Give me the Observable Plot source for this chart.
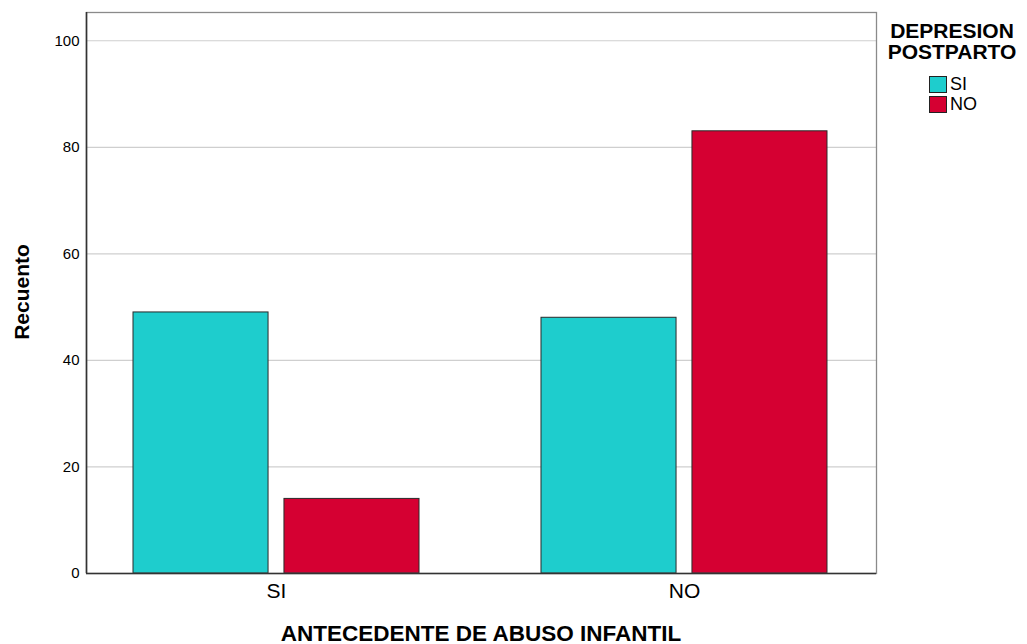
<!DOCTYPE html>
<html>
<head>
<meta charset="utf-8">
<script src="https://cdn.jsdelivr.net/npm/d3@7"></script>
<script src="https://cdn.jsdelivr.net/npm/@observablehq/plot@0.6"></script>
<style>
  html, body { margin: 0; padding: 0; background: #fff; }
  body { font-family: "Liberation Sans", Arial, sans-serif; }
  #wrap { position: relative; width: 1027px; height: 644px; }
  #legend { position: absolute; left: 876px; top: 20px; width: 152px; color: #000; }
  #legend .title { font-weight: bold; font-size: 21px; line-height: 21px; text-align: center; }
  #legend .items { margin-left: 53px; margin-top: 12px; }
  #legend .item { display: flex; align-items: center; height: 20px; font-size: 18px; }
  #legend .sw { width: 16px; height: 15px; border: 1px solid #222; margin-right: 3px; box-sizing: content-box; }
  #xtitle { position: absolute; left: 86px; width: 790px; top: 622px; text-align: center; font-weight: bold; font-size: 22.5px; line-height: 24px; }
  #ytitle { position: absolute; left: 22px; top: 292px; transform: translate(-50%, -50%) rotate(-90deg); font-weight: bold; font-size: 21px; white-space: nowrap; }
</style>
</head>
<body>
<div id="wrap">
  <div id="chart"></div>
  <div id="legend"></div>
  <div id="xtitle"></div>
  <div id="ytitle"></div>
</div>
<script>
// Categories
const groups = ["SI", "NO"];            // ANTECEDENTE DE ABUSO INFANTIL
const seriesNames = ["SI", "NO"];       // DEPRESION POSTPARTO
// Series values (Recuento)
const valuesSI = [49, 48];
const valuesNO = [14, 83];
const seriesColors = ["#1ECDCD", "#D50032"];
const yTicks = [0, 20, 40, 60, 80, 100];
const xTitle = "ANTECEDENTE DE ABUSO INFANTIL";
const yTitle = "Recuento";
const legendTitle = ["DEPRESION", "POSTPARTO"];

// Build table
const barW = 0.331, gap = 0.039;
const seriesValues = [valuesSI, valuesNO];
const rows = [];
groups.forEach((g, gi) => {
  seriesNames.forEach((s, si) => {
    const x1 = si === 0 ? gi - gap / 2 - barW : gi + gap / 2;
    rows.push({group: g, series: s, value: seriesValues[si][gi], x1, x2: x1 + barW});
  });
});

const chart = Plot.plot({
  width: 1027,
  height: 644,
  marginLeft: 86,
  marginRight: 151,
  marginTop: 12,
  marginBottom: 71,
  style: {fontFamily: "'Liberation Sans', Arial, sans-serif", fontSize: "15px", color: "#000", background: "#fff"},
  x: {domain: [-0.4657, 1.4706], axis: null},
  y: {domain: [0, 105.3], axis: null},
  color: {domain: seriesNames, range: seriesColors},
  marks: [
    Plot.gridY(yTicks.slice(1), {stroke: "#cfcfcf", strokeOpacity: 1, strokeWidth: 1.2}),
    Plot.rectY(rows, {x1: "x1", x2: "x2", y: "value", fill: "series", stroke: "#2a2a2a", strokeWidth: 1}),
    Plot.frame({stroke: "#8a8a8a", strokeWidth: 1.3}),
    Plot.ruleY([0], {stroke: "#333", strokeWidth: 1.6}),
    Plot.ruleX([-0.4657], {stroke: "#333", strokeWidth: 1.6}),
    Plot.axisY(yTicks, {tickSize: 0, tickPadding: 7, fontSize: 15, label: null}),
    Plot.axisX([0, 1], {tickSize: 0, tickPadding: 10, fontSize: 21, label: null, tickFormat: (d) => groups[d]})
  ]
});
document.getElementById("chart").appendChild(chart);

// Legend
const leg = document.getElementById("legend");
leg.innerHTML = `<div class="title">${legendTitle.join("<br>")}</div><div class="items">` +
  seriesNames.map((s, i) => `<div class="item"><span class="sw" style="background:${seriesColors[i]}"></span>${s}</div>`).join("") +
  `</div>`;
document.getElementById("xtitle").textContent = xTitle;
document.getElementById("ytitle").textContent = yTitle;
</script>
</body>
</html>
